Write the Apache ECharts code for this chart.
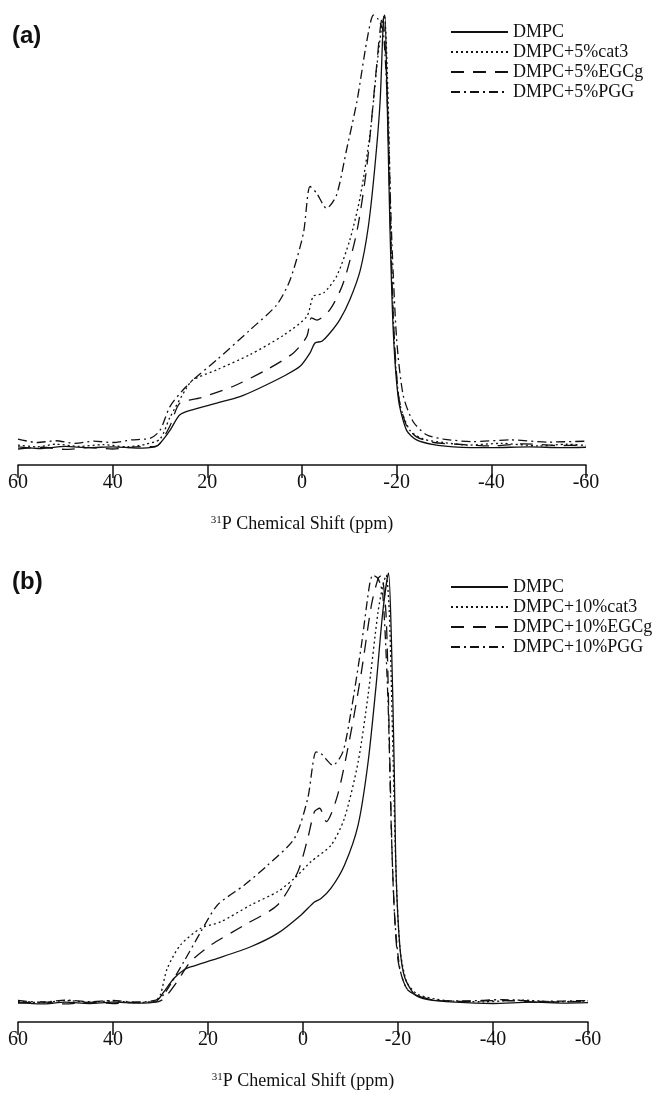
<!DOCTYPE html>
<html>
<head>
<meta charset="utf-8">
<script src="https://cdn.jsdelivr.net/npm/echarts@6/dist/echarts.min.js"></script>
<style>
  html, body { margin: 0; padding: 0; background: #fff; }
  #chart { width: 653px; height: 1093px; }
</style>
</head>
<body>
<div id="chart"></div>
<script>
// x ticks (ppm) and legend names
const xTicks = [60, 40, 20, 0, -20, -40, -60];
const namesA = ['DMPC', 'DMPC+5%cat3', 'DMPC+5%EGCg', 'DMPC+5%PGG'];
const namesB = ['DMPC', 'DMPC+10%cat3', 'DMPC+10%EGCg', 'DMPC+10%PGG'];

// panel (a) spectra: [ppm, normalised intensity]
const dmpcA = [[60,0.002],[55,-0.002],[50,0.003],[45,0],[40,0.002],[35,-0.001],[31,0.002],[30,0.01],[27.9,0.04],[25.8,0.076],[23.0,0.088],[18.0,0.103],[13.1,0.118],[8.9,0.138],[3.9,0.165],[0.4,0.188],[-1.7,0.219],[-2.75,0.242],[-4.2,0.246],[-5.9,0.265],[-8.0,0.296],[-10.1,0.342],[-12.3,0.41],[-14.0,0.51],[-15.4,0.65],[-16.5,0.80],[-17.2,0.99],[-17.5,1.0],[-18.0,0.80],[-18.6,0.50],[-19.3,0.265],[-20.4,0.11],[-22.1,0.04],[-24.2,0.018],[-27.8,0.007],[-32,0.002],[-40,0],[-48,0.002],[-55,0],[-60,0.001]];
const cat3A = [[60,0.006],[56,0.002],[52,0.008],[47,0.003],[42,0.007],[37,0.002],[33,0.008],[30,0.02],[27.9,0.07],[24.4,0.138],[23.0,0.157],[18.0,0.18],[11.0,0.215],[3.9,0.26],[-1.0,0.303],[-2.4,0.35],[-4.5,0.357],[-7.3,0.396],[-10.1,0.48],[-12.3,0.58],[-14.4,0.727],[-15.8,0.88],[-16.8,0.97],[-17.4,1.0],[-18.2,0.80],[-18.9,0.45],[-19.6,0.22],[-20.7,0.10],[-22.8,0.04],[-25.6,0.02],[-29.9,0.012],[-35,0.006],[-42,0.01],[-50,0.004],[-56,0.008],[-60,0.005]];
const egcgA = [[60,-0.003],[55,0.001],[50,-0.004],[45,0],[40,-0.003],[35,0.002],[31,0.003],[30,0.01],[27.9,0.05],[25.8,0.103],[21.5,0.115],[14.5,0.142],[7.5,0.18],[1.8,0.219],[-1.0,0.257],[-2.0,0.30],[-3.1,0.295],[-5.9,0.319],[-8.7,0.38],[-11.6,0.50],[-13.7,0.65],[-15.4,0.84],[-16.5,0.966],[-17.0,1.0],[-17.9,0.85],[-18.6,0.55],[-19.3,0.30],[-20.4,0.12],[-22.1,0.05],[-24.2,0.025],[-27.8,0.012],[-33,0.008],[-40,0.004],[-47,0.009],[-54,0.005],[-60,0.006]];
const pggA = [[60,0.02],[56,0.012],[52,0.016],[48,0.01],[44,0.015],[40,0.012],[36,0.018],[32,0.022],[30,0.04],[27.9,0.095],[25.1,0.134],[23.0,0.157],[18.0,0.203],[11.0,0.272],[5.35,0.33],[2.5,0.388],[-0.3,0.496],[-1.7,0.604],[-3.1,0.588],[-5.2,0.553],[-7.3,0.584],[-9.4,0.688],[-11.6,0.80],[-13.7,0.94],[-15.1,1.0],[-16.1,0.99],[-17.2,0.96],[-18.2,0.75],[-18.9,0.50],[-20.0,0.25],[-21.4,0.12],[-23.5,0.06],[-26.3,0.03],[-29.9,0.02],[-36,0.014],[-44,0.018],[-52,0.013],[-60,0.015]];

// panel (b) spectra
const dmpcB = [[60,0.001],[55,-0.002],[50,0.002],[45,-0.001],[40,0.002],[35,0],[31,0.003],[29.3,0.026],[27.2,0.057],[25.1,0.077],[23.7,0.084],[18.0,0.104],[11.0,0.131],[5.35,0.162],[0.4,0.205],[-2.4,0.235],[-3.8,0.243],[-5.9,0.267],[-8.7,0.32],[-11.6,0.414],[-13.7,0.56],[-15.4,0.74],[-16.8,0.91],[-18.0,1.0],[-18.6,0.85],[-19.2,0.55],[-19.6,0.30],[-20.4,0.13],[-21.4,0.06],[-23.5,0.02],[-26.3,0.008],[-32,0.002],[-40,-0.001],[-48,0.002],[-55,0],[-60,0.001]];
const cat3B = [[60,0.004],[55,0.001],[50,0.006],[45,0.002],[40,0.005],[35,0.001],[31,0.006],[30,0.02],[28.6,0.08],[25.8,0.135],[21.5,0.174],[17.3,0.189],[11.0,0.228],[5.35,0.259],[1.8,0.29],[-1.7,0.329],[-5.9,0.367],[-8.7,0.429],[-11.6,0.56],[-13.7,0.716],[-15.8,0.91],[-16.8,0.97],[-17.5,0.995],[-18.2,0.90],[-18.9,0.60],[-19.6,0.30],[-20.4,0.13],[-21.8,0.05],[-24.2,0.02],[-30,0.006],[-38,0.003],[-46,0.007],[-53,0.003],[-60,0.005]];
const egcgB = [[60,0],[55,0.003],[50,-0.002],[45,0.002],[40,-0.001],[35,0.002],[31,0.002],[29.3,0.01],[26.5,0.05],[23.7,0.096],[19.4,0.135],[12.4,0.181],[5.35,0.228],[1.1,0.305],[-1.0,0.383],[-2.4,0.445],[-3.5,0.453],[-4.9,0.422],[-7.3,0.484],[-10.1,0.63],[-12.3,0.77],[-14.4,0.925],[-15.8,0.987],[-16.5,0.995],[-17.5,0.90],[-18.2,0.60],[-18.9,0.30],[-20.0,0.10],[-22.1,0.03],[-27,0.008],[-34,0.004],[-42,0.006],[-50,0.002],[-60,0.004]];
const pggB = [[60,0.006],[55,0.002],[50,0.007],[45,0.003],[40,0.006],[35,0.002],[31,0.007],[29.3,0.02],[25.1,0.096],[21.5,0.166],[18.0,0.228],[12.4,0.274],[7.5,0.32],[1.8,0.383],[-1.0,0.476],[-2.75,0.584],[-3.8,0.58],[-6.3,0.553],[-8.4,0.584],[-10.1,0.677],[-12.3,0.832],[-14.0,0.972],[-14.7,0.995],[-15.8,0.987],[-16.8,0.95],[-17.9,0.70],[-18.6,0.40],[-19.3,0.20],[-20.4,0.08],[-22.1,0.03],[-27,0.008],[-34,0.005],[-42,0.008],[-50,0.004],[-60,0.006]];

const dashTypes = ['solid', [2, 3], [13, 9], [9, 4, 2, 4]];
const serif = 'Liberation Serif';

const chart = echarts.init(document.getElementById('chart'), null, { renderer: 'canvas' });

function xAxisFor(gridIndex) {
  return {
    type: 'value', gridIndex: gridIndex, min: -60, max: 60, interval: 20, inverse: true,
    name: '{sup|31}P Chemical Shift (ppm)', nameLocation: 'middle', nameGap: 50,
    nameTextStyle: { fontFamily: serif, fontSize: 18, color: '#111',
      rich: { sup: { fontFamily: serif, fontSize: 11, verticalAlign: 'top', padding: [0, 0, 8, 0] } } },
    axisLine: { show: true, onZero: false, lineStyle: { color: '#111', width: 1.5 } },
    axisTick: { show: true, inside: false, length: 13, lineStyle: { color: '#111', width: 1.5 } },
    axisLabel: { fontFamily: serif, fontSize: 20, color: '#111', margin: 8 },
    splitLine: { show: false }
  };
}

function seriesFor(names, datasets, gridIndex) {
  return datasets.map((d, i) => ({
    name: names[i], type: 'line', xAxisIndex: gridIndex, yAxisIndex: gridIndex,
    data: d, showSymbol: false, symbol: 'none', smooth: 0.25,
    lineStyle: { color: '#111', width: 1.3, type: dashTypes[i] },
    itemStyle: { color: '#111' }
  }));
}

function legendFor(names, top) {
  return {
    data: names, orient: 'vertical', left: 445, top: top, itemWidth: 57, itemHeight: 14, itemGap: 2,
    itemStyle: { opacity: 0 },
    textStyle: { fontFamily: serif, fontSize: 18, color: '#111' }
  };
}

const option = {
  animation: false,
  backgroundColor: '#fff',
  grid: [
    { left: 18, right: 67, top: 15, height: 450 },
    { left: 18, right: 65, top: 573, height: 449 }
  ],
  xAxis: [xAxisFor(0), xAxisFor(1)],
  yAxis: [
    { type: 'value', gridIndex: 0, min: -0.04, max: 1.0, show: false },
    { type: 'value', gridIndex: 1, min: -0.044, max: 1.0, show: false }
  ],
  legend: [legendFor(namesA, 18), legendFor(namesB, 573)],
  graphic: [
    { type: 'text', left: 12, top: 24, style: { text: '(a)', font: 'bold 24px Liberation Sans', fill: '#111' } },
    { type: 'text', left: 12, top: 570, style: { text: '(b)', font: 'bold 24px Liberation Sans', fill: '#111' } }
  ],
  series: seriesFor(namesA, [dmpcA, cat3A, egcgA, pggA], 0)
    .concat(seriesFor(namesB, [dmpcB, cat3B, egcgB, pggB], 1))
};

chart.setOption(option);
</script>
</body>
</html>
